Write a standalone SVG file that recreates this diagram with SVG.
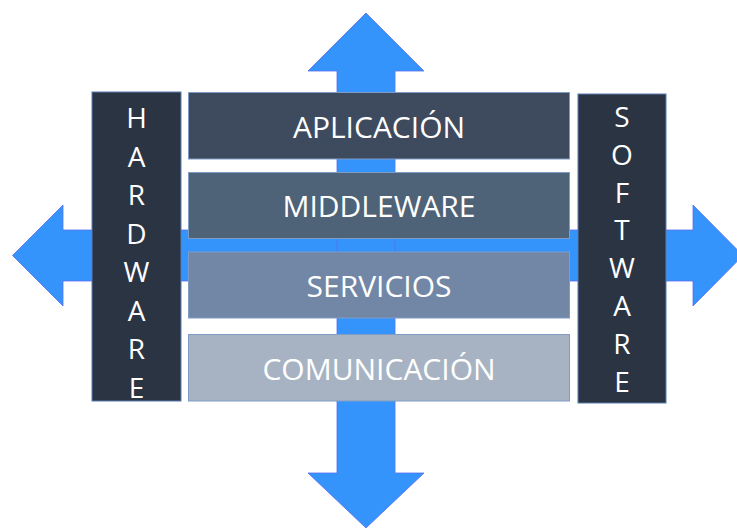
<svg xmlns="http://www.w3.org/2000/svg" width="737" height="528" viewBox="0 0 737 528">
  <style>
    .arrow { fill: #3494FC; stroke: #5B6CF0; stroke-width: 0.8; stroke-linejoin: miter; }
    .col { fill: #2B3443; stroke: #5B7DB1; stroke-width: 1; }
    .box { stroke: #7F9CC4; stroke-width: 1; }
    .lbl { font-family: "Open Sans", "Noto Sans", "Liberation Sans", sans-serif; font-size: 30px; fill: #FFFFFF; text-anchor: middle; }
    .vl { font-family: "Open Sans", "Noto Sans", "Liberation Sans", sans-serif; font-size: 28px; fill: #FFFFFF; text-anchor: middle; }
  </style>
  <rect x="0" y="0" width="737" height="528" fill="#FFFFFF"/>
  <g id="connectors">
    <polygon class="arrow" points="12.5,255.5 63,205 63,230 693,230 693,205 743,255.5 693,306 693,281 63,281 63,306"/>
    <polygon class="arrow" points="366,13 424,71 395,71 395,473 424,473 366,528 308,473 337,473 337,71 308,71"/>
  </g>
  <g id="hardware">
    <rect class="col" x="92" y="92" width="89" height="309"/>
    <text class="vl" x="136.5" y="128">H</text>
    <text class="vl" x="136.5" y="166.5">A</text>
    <text class="vl" x="136.5" y="205">R</text>
    <text class="vl" x="136.5" y="243.5">D</text>
    <text class="vl" x="136.5" y="282">W</text>
    <text class="vl" x="136.5" y="320.5">A</text>
    <text class="vl" x="136.5" y="359">R</text>
    <text class="vl" x="136.5" y="397.5">E</text>
  </g>
  <g id="software">
    <rect class="col" x="578" y="94" width="88" height="309"/>
    <text class="vl" x="622" y="127">S</text>
    <text class="vl" x="622" y="165">O</text>
    <text class="vl" x="622" y="203">F</text>
    <text class="vl" x="622" y="240">T</text>
    <text class="vl" x="622" y="278">W</text>
    <text class="vl" x="622" y="316">A</text>
    <text class="vl" x="622" y="354">R</text>
    <text class="vl" x="622" y="392">E</text>
  </g>
  <g id="aplicacion">
    <rect class="box" x="188.5" y="92.5" width="381" height="66.5" fill="#3E4B5E"/>
    <text class="lbl" x="379" y="137.5">APLICACIÓN</text>
  </g>
  <g id="middleware">
    <rect class="box" x="188.5" y="172.5" width="381" height="66" fill="#4E6377"/>
    <text class="lbl" x="379" y="217">MIDDLEWARE</text>
  </g>
  <g id="servicios">
    <rect class="box" x="188.5" y="252" width="381" height="66" fill="#7287A5"/>
    <text class="lbl" x="379" y="296.5">SERVICIOS</text>
  </g>
  <g id="comunicacion">
    <rect class="box" x="188.5" y="334.5" width="381" height="66.5" fill="#A7B3C3"/>
    <text class="lbl" x="379" y="379.5">COMUNICACIÓN</text>
  </g>
</svg>
